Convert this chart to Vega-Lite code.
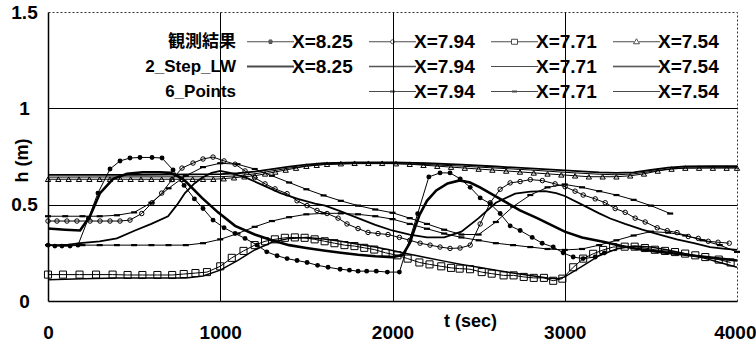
{
"$schema": "https://vega.github.io/schema/vega-lite/v6.json",
"width": 689, "height": 289,
"autosize": {"type": "none"},
"padding": {"left": 48, "top": 12, "right": 19, "bottom": 43},
"background": "white",
"config": {
 "font": "Liberation Sans",
 "view": {"stroke": "#333", "strokeDash": [2, 2], "strokeWidth": 1},
 "axis": {"labelFont": "Liberation Sans", "labelFontWeight": "bold", "labelFontSize": 19, "labelColor": "black", "titleFont": "Liberation Sans", "titleFontWeight": "bold", "titleFontSize": 18, "titleColor": "black", "domainColor": "black", "domainWidth": 1.5, "ticks": false, "gridColor": "black", "gridWidth": 1, "gridOpacity": 1}
},
"datasets": {
 "o825": [{"t":0,"h":0.29},{"t":40,"h":0.285},{"t":81,"h":0.285},{"t":128,"h":0.285},{"t":174,"h":0.29},{"t":235,"h":0.43},{"t":290,"h":0.56},{"t":360,"h":0.685},{"t":418,"h":0.727},{"t":476,"h":0.742},{"t":534,"h":0.745},{"t":604,"h":0.745},{"t":662,"h":0.742},{"t":726,"h":0.68},{"t":790,"h":0.6},{"t":850,"h":0.53},{"t":900,"h":0.48},{"t":958,"h":0.42},{"t":1022,"h":0.38},{"t":1086,"h":0.35},{"t":1144,"h":0.325},{"t":1214,"h":0.29},{"t":1270,"h":0.255},{"t":1330,"h":0.235},{"t":1388,"h":0.22},{"t":1446,"h":0.21},{"t":1504,"h":0.2},{"t":1565,"h":0.185},{"t":1626,"h":0.175},{"t":1696,"h":0.165},{"t":1750,"h":0.16},{"t":1800,"h":0.155},{"t":1850,"h":0.155},{"t":1906,"h":0.155},{"t":1970,"h":0.15},{"t":2040,"h":0.15},{"t":2146,"h":0.453},{"t":2211,"h":0.644},{"t":2276,"h":0.665},{"t":2334,"h":0.665},{"t":2393,"h":0.634},{"t":2451,"h":0.59},{"t":2509,"h":0.535},{"t":2567,"h":0.505},{"t":2625,"h":0.454},{"t":2683,"h":0.39},{"t":2741,"h":0.366},{"t":2811,"h":0.33},{"t":2869,"h":0.3},{"t":2933,"h":0.28},{"t":2991,"h":0.25},{"t":3049,"h":0.228},{"t":3107,"h":0.22},{"t":3177,"h":0.228},{"t":3230,"h":0.25}],
 "o794": [{"t":0,"h":0.415},{"t":52,"h":0.415},{"t":110,"h":0.415},{"t":168,"h":0.415},{"t":244,"h":0.415},{"t":302,"h":0.415},{"t":360,"h":0.415},{"t":418,"h":0.415},{"t":476,"h":0.42},{"t":544,"h":0.454},{"t":604,"h":0.51},{"t":660,"h":0.56},{"t":720,"h":0.63},{"t":778,"h":0.69},{"t":842,"h":0.716},{"t":900,"h":0.737},{"t":958,"h":0.747},{"t":1022,"h":0.727},{"t":1086,"h":0.71},{"t":1144,"h":0.675},{"t":1200,"h":0.64},{"t":1260,"h":0.608},{"t":1318,"h":0.582},{"t":1388,"h":0.557},{"t":1446,"h":0.52},{"t":1504,"h":0.495},{"t":1562,"h":0.47},{"t":1620,"h":0.454},{"t":1684,"h":0.43},{"t":1736,"h":0.4},{"t":1800,"h":0.376},{"t":1858,"h":0.356},{"t":1916,"h":0.35},{"t":1974,"h":0.345},{"t":2040,"h":0.33},{"t":2100,"h":0.315},{"t":2160,"h":0.3},{"t":2218,"h":0.29},{"t":2276,"h":0.28},{"t":2334,"h":0.273},{"t":2392,"h":0.275},{"t":2451,"h":0.29},{"t":2509,"h":0.4},{"t":2567,"h":0.51},{"t":2625,"h":0.58},{"t":2683,"h":0.613},{"t":2741,"h":0.62},{"t":2800,"h":0.63},{"t":2870,"h":0.625},{"t":2944,"h":0.608},{"t":3002,"h":0.593},{"t":3060,"h":0.57},{"t":3107,"h":0.55},{"t":3177,"h":0.53},{"t":3235,"h":0.51},{"t":3293,"h":0.48},{"t":3351,"h":0.46},{"t":3409,"h":0.43},{"t":3467,"h":0.41},{"t":3537,"h":0.38},{"t":3595,"h":0.365},{"t":3652,"h":0.355},{"t":3717,"h":0.335},{"t":3775,"h":0.325},{"t":3833,"h":0.31},{"t":3890,"h":0.305},{"t":3955,"h":0.3}],
 "o771": [{"t":0,"h":0.137},{"t":87,"h":0.137},{"t":183,"h":0.137},{"t":279,"h":0.137},{"t":375,"h":0.137},{"t":462,"h":0.135},{"t":548,"h":0.135},{"t":635,"h":0.135},{"t":721,"h":0.135},{"t":788,"h":0.14},{"t":856,"h":0.145},{"t":923,"h":0.15},{"t":1000,"h":0.18},{"t":1067,"h":0.224},{"t":1135,"h":0.26},{"t":1200,"h":0.29},{"t":1260,"h":0.31},{"t":1317,"h":0.32},{"t":1375,"h":0.328},{"t":1433,"h":0.33},{"t":1490,"h":0.328},{"t":1548,"h":0.32},{"t":1606,"h":0.31},{"t":1663,"h":0.3},{"t":1721,"h":0.29},{"t":1779,"h":0.285},{"t":1836,"h":0.276},{"t":1894,"h":0.267},{"t":1960,"h":0.25},{"t":2029,"h":0.237},{"t":2088,"h":0.22},{"t":2156,"h":0.2},{"t":2215,"h":0.19},{"t":2283,"h":0.18},{"t":2340,"h":0.172},{"t":2390,"h":0.168},{"t":2450,"h":0.165},{"t":2518,"h":0.15},{"t":2576,"h":0.142},{"t":2645,"h":0.133},{"t":2703,"h":0.133},{"t":2762,"h":0.125},{"t":2820,"h":0.12},{"t":2879,"h":0.12},{"t":2933,"h":0.105},{"t":2986,"h":0.116},{"t":3049,"h":0.175},{"t":3107,"h":0.22},{"t":3165,"h":0.245},{"t":3223,"h":0.265},{"t":3281,"h":0.28},{"t":3348,"h":0.282},{"t":3406,"h":0.282},{"t":3465,"h":0.275},{"t":3523,"h":0.266},{"t":3582,"h":0.26},{"t":3640,"h":0.254},{"t":3699,"h":0.246},{"t":3758,"h":0.237},{"t":3816,"h":0.228},{"t":3894,"h":0.215},{"t":3963,"h":0.2}],
 "o754": [{"t":0,"h":0.632},{"t":60,"h":0.632},{"t":120,"h":0.632},{"t":180,"h":0.632},{"t":240,"h":0.632},{"t":300,"h":0.632},{"t":360,"h":0.632},{"t":420,"h":0.632},{"t":480,"h":0.632},{"t":540,"h":0.632},{"t":600,"h":0.632},{"t":660,"h":0.632},{"t":720,"h":0.632},{"t":780,"h":0.632},{"t":840,"h":0.632},{"t":900,"h":0.632},{"t":960,"h":0.632},{"t":1020,"h":0.635},{"t":1080,"h":0.64},{"t":1140,"h":0.645},{"t":1200,"h":0.65},{"t":1260,"h":0.66},{"t":1320,"h":0.67},{"t":1380,"h":0.68},{"t":1440,"h":0.69},{"t":1500,"h":0.7},{"t":1560,"h":0.705},{"t":1620,"h":0.71},{"t":1700,"h":0.713},{"t":1780,"h":0.715},{"t":1860,"h":0.715},{"t":1940,"h":0.715},{"t":2020,"h":0.713},{"t":2100,"h":0.71},{"t":2180,"h":0.705},{"t":2260,"h":0.7},{"t":2340,"h":0.695},{"t":2420,"h":0.69},{"t":2500,"h":0.685},{"t":2580,"h":0.68},{"t":2660,"h":0.675},{"t":2740,"h":0.67},{"t":2820,"h":0.665},{"t":2900,"h":0.66},{"t":2980,"h":0.655},{"t":3060,"h":0.65},{"t":3140,"h":0.645},{"t":3220,"h":0.645},{"t":3300,"h":0.645},{"t":3380,"h":0.65},{"t":3460,"h":0.66},{"t":3540,"h":0.675},{"t":3620,"h":0.685},{"t":3700,"h":0.69},{"t":3780,"h":0.69},{"t":3860,"h":0.69},{"t":3940,"h":0.69},{"t":4000,"h":0.69}],
 "s825": [{"t":0,"h":0.376},{"t":100,"h":0.37},{"t":186,"h":0.366},{"t":244,"h":0.44},{"t":302,"h":0.56},{"t":378,"h":0.634},{"t":459,"h":0.66},{"t":550,"h":0.668},{"t":650,"h":0.668},{"t":711,"h":0.665},{"t":760,"h":0.645},{"t":800,"h":0.62},{"t":894,"h":0.535},{"t":987,"h":0.46},{"t":1086,"h":0.39},{"t":1200,"h":0.345},{"t":1300,"h":0.315},{"t":1400,"h":0.29},{"t":1500,"h":0.275},{"t":1600,"h":0.262},{"t":1700,"h":0.25},{"t":1800,"h":0.24},{"t":1900,"h":0.232},{"t":2000,"h":0.228},{"t":2060,"h":0.24},{"t":2100,"h":0.3},{"t":2130,"h":0.38},{"t":2156,"h":0.445},{"t":2200,"h":0.52},{"t":2254,"h":0.574},{"t":2320,"h":0.61},{"t":2390,"h":0.626},{"t":2450,"h":0.615},{"t":2508,"h":0.59},{"t":2645,"h":0.52},{"t":2740,"h":0.47},{"t":2840,"h":0.43},{"t":2920,"h":0.395},{"t":3000,"h":0.36},{"t":3100,"h":0.33},{"t":3230,"h":0.306},{"t":3330,"h":0.285},{"t":3425,"h":0.27},{"t":3550,"h":0.255},{"t":3700,"h":0.24},{"t":3850,"h":0.225},{"t":4000,"h":0.21}],
 "s794": [{"t":0,"h":0.29},{"t":100,"h":0.29},{"t":186,"h":0.3},{"t":300,"h":0.31},{"t":400,"h":0.325},{"t":505,"h":0.366},{"t":600,"h":0.4},{"t":697,"h":0.44},{"t":750,"h":0.5},{"t":795,"h":0.56},{"t":850,"h":0.61},{"t":894,"h":0.64},{"t":950,"h":0.665},{"t":1000,"h":0.675},{"t":1057,"h":0.665},{"t":1150,"h":0.64},{"t":1250,"h":0.6},{"t":1350,"h":0.56},{"t":1450,"h":0.53},{"t":1550,"h":0.505},{"t":1609,"h":0.495},{"t":1700,"h":0.465},{"t":1800,"h":0.43},{"t":1900,"h":0.395},{"t":1998,"h":0.366},{"t":2100,"h":0.345},{"t":2200,"h":0.33},{"t":2300,"h":0.33},{"t":2400,"h":0.36},{"t":2500,"h":0.43},{"t":2600,"h":0.51},{"t":2712,"h":0.557},{"t":2800,"h":0.568},{"t":2886,"h":0.57},{"t":2950,"h":0.56},{"t":3000,"h":0.545},{"t":3100,"h":0.5},{"t":3200,"h":0.455},{"t":3264,"h":0.428},{"t":3350,"h":0.4},{"t":3450,"h":0.37},{"t":3550,"h":0.345},{"t":3650,"h":0.32},{"t":3750,"h":0.3},{"t":3844,"h":0.28},{"t":3920,"h":0.272},{"t":4000,"h":0.265}],
 "s771": [{"t":0,"h":0.11},{"t":200,"h":0.115},{"t":400,"h":0.12},{"t":600,"h":0.12},{"t":800,"h":0.12},{"t":900,"h":0.13},{"t":1000,"h":0.16},{"t":1100,"h":0.21},{"t":1200,"h":0.265},{"t":1300,"h":0.305},{"t":1400,"h":0.325},{"t":1500,"h":0.33},{"t":1600,"h":0.322},{"t":1700,"h":0.31},{"t":1800,"h":0.295},{"t":1900,"h":0.28},{"t":2000,"h":0.262},{"t":2100,"h":0.243},{"t":2200,"h":0.225},{"t":2300,"h":0.207},{"t":2400,"h":0.19},{"t":2500,"h":0.175},{"t":2600,"h":0.16},{"t":2700,"h":0.145},{"t":2800,"h":0.132},{"t":2900,"h":0.12},{"t":2960,"h":0.115},{"t":3000,"h":0.125},{"t":3100,"h":0.18},{"t":3200,"h":0.235},{"t":3300,"h":0.27},{"t":3400,"h":0.285},{"t":3500,"h":0.28},{"t":3600,"h":0.265},{"t":3700,"h":0.245},{"t":3800,"h":0.225},{"t":3900,"h":0.2},{"t":4000,"h":0.175}],
 "s754": [{"t":0,"h":0.655},{"t":500,"h":0.655},{"t":1000,"h":0.658},{"t":1100,"h":0.663},{"t":1200,"h":0.672},{"t":1300,"h":0.685},{"t":1400,"h":0.698},{"t":1500,"h":0.708},{"t":1600,"h":0.715},{"t":1800,"h":0.72},{"t":2000,"h":0.72},{"t":2200,"h":0.715},{"t":2400,"h":0.708},{"t":2600,"h":0.698},{"t":2800,"h":0.688},{"t":3000,"h":0.678},{"t":3200,"h":0.668},{"t":3300,"h":0.665},{"t":3400,"h":0.668},{"t":3500,"h":0.68},{"t":3600,"h":0.692},{"t":3700,"h":0.698},{"t":3850,"h":0.7},{"t":4000,"h":0.7}],
 "p794": [{"t":0,"h":0.44},{"t":100,"h":0.44},{"t":200,"h":0.44},{"t":300,"h":0.44},{"t":400,"h":0.445},{"t":500,"h":0.46},{"t":600,"h":0.51},{"t":700,"h":0.585},{"t":800,"h":0.65},{"t":900,"h":0.695},{"t":1000,"h":0.715},{"t":1100,"h":0.71},{"t":1200,"h":0.685},{"t":1300,"h":0.65},{"t":1400,"h":0.615},{"t":1500,"h":0.58},{"t":1600,"h":0.548},{"t":1700,"h":0.52},{"t":1800,"h":0.495},{"t":1900,"h":0.475},{"t":2000,"h":0.458},{"t":2100,"h":0.43},{"t":2200,"h":0.4},{"t":2300,"h":0.37},{"t":2400,"h":0.345},{"t":2500,"h":0.345},{"t":2600,"h":0.41},{"t":2700,"h":0.49},{"t":2800,"h":0.55},{"t":2900,"h":0.59},{"t":3000,"h":0.605},{"t":3100,"h":0.59},{"t":3200,"h":0.57},{"t":3300,"h":0.55},{"t":3400,"h":0.525},{"t":3500,"h":0.495},{"t":3612,"h":0.454}],
 "p771": [{"t":0,"h":0.29},{"t":100,"h":0.29},{"t":200,"h":0.29},{"t":300,"h":0.29},{"t":400,"h":0.29},{"t":500,"h":0.29},{"t":600,"h":0.29},{"t":700,"h":0.29},{"t":800,"h":0.29},{"t":900,"h":0.3},{"t":1000,"h":0.32},{"t":1100,"h":0.35},{"t":1200,"h":0.385},{"t":1300,"h":0.415},{"t":1400,"h":0.435},{"t":1500,"h":0.45},{"t":1600,"h":0.455},{"t":1700,"h":0.455},{"t":1800,"h":0.45},{"t":1900,"h":0.44},{"t":2000,"h":0.425},{"t":2100,"h":0.4},{"t":2200,"h":0.375},{"t":2300,"h":0.35},{"t":2400,"h":0.33},{"t":2500,"h":0.315},{"t":2600,"h":0.3},{"t":2700,"h":0.29},{"t":2800,"h":0.28},{"t":2900,"h":0.27},{"t":3000,"h":0.265},{"t":3100,"h":0.27},{"t":3200,"h":0.29},{"t":3300,"h":0.315},{"t":3400,"h":0.34},{"t":3500,"h":0.36},{"t":3600,"h":0.355},{"t":3700,"h":0.34},{"t":3800,"h":0.315},{"t":3900,"h":0.29},{"t":4000,"h":0.255}],
 "p754": [{"t":0,"h":0.643},{"t":1000,"h":0.645},{"t":1100,"h":0.65},{"t":1200,"h":0.66},{"t":1300,"h":0.675},{"t":1400,"h":0.69},{"t":1500,"h":0.7},{"t":1600,"h":0.708},{"t":1800,"h":0.713},{"t":2000,"h":0.713},{"t":2200,"h":0.708},{"t":2400,"h":0.7},{"t":2600,"h":0.69},{"t":2800,"h":0.68},{"t":3000,"h":0.668},{"t":3200,"h":0.658},{"t":3300,"h":0.655},{"t":3400,"h":0.66},{"t":3500,"h":0.672},{"t":3600,"h":0.685},{"t":3700,"h":0.69},{"t":3850,"h":0.692},{"t":4000,"h":0.692}]
},
"encoding": {
 "x": {"field": "t", "type": "quantitative", "scale": {"domain": [0, 4000], "nice": false},
  "axis": {"values": [0, 1000, 2000, 3000, 4000], "format": "d", "title": "t (sec)", "labelPadding": 22, "labelFlush": false, "labelOverlap": false, "titleX": 422, "titleY": 20, "titleBaseline": "middle", "titleAlign": "center", "titleAnchor": null,
   "labelAlign": {"condition": {"test": "datum.value == 4000", "value": "right"}, "value": "center"},
   "labelOffset": {"condition": {"test": "datum.value == 4000", "value": 19}, "value": 0},
   "gridOpacity": {"condition": {"test": "datum.value == 0 || datum.value == 4000", "value": 0}, "value": 1}}},
 "y": {"field": "h", "type": "quantitative", "scale": {"domain": [0, 1.5], "nice": false},
  "axis": {"values": [0, 0.5, 1, 1.5], "format": "~g", "title": "h (m)", "labelAlign": "center", "labelPadding": 24, "labelBaseline": "middle", "labelOverlap": false, "titleX": -26, "titleY": 148, "titleBaseline": "middle", "titleAlign": "center", "titleAngle": -90,
   "gridOpacity": {"condition": {"test": "datum.value == 0 || datum.value == 1.5", "value": 0}, "value": 1}}}
},
"layer": [
 {"data": {"name": "s771"}, "mark": {"type": "line", "color": "black", "strokeWidth": 1.5}},
 {"data": {"name": "s754"}, "mark": {"type": "line", "color": "black", "strokeWidth": 1.8}},
 {"data": {"name": "s794"}, "mark": {"type": "line", "color": "black", "strokeWidth": 1.8}},
 {"data": {"name": "s825"}, "mark": {"type": "line", "color": "black", "strokeWidth": 2.6}},
 {"data": {"name": "p754"}, "mark": {"type": "line", "color": "black", "strokeWidth": 1}},
 {"data": {"name": "p794"}, "mark": {"type": "line", "color": "black", "strokeWidth": 1, "point": {"shape": "M-1,0H1", "filled": false, "size": 36, "strokeWidth": 2.2, "color": "black"}}},
 {"data": {"name": "p771"}, "mark": {"type": "line", "color": "black", "strokeWidth": 1, "point": {"shape": "M-1,0H1", "filled": false, "size": 36, "strokeWidth": 2.2, "color": "black"}}},
 {"data": {"name": "o754"}, "mark": {"type": "line", "color": "black", "strokeWidth": 1, "point": {"shape": "triangle-up", "filled": false, "size": 28, "strokeWidth": 1, "color": "black"}}},
 {"data": {"name": "o771"}, "mark": {"type": "line", "color": "black", "strokeWidth": 1, "point": {"shape": "square", "filled": false, "size": 50, "strokeWidth": 1, "color": "black"}}},
 {"data": {"name": "o794"}, "mark": {"type": "line", "color": "black", "strokeWidth": 1, "point": {"shape": "circle", "filled": false, "size": 20, "strokeWidth": 1, "color": "black"}}},
 {"data": {"name": "o825"}, "mark": {"type": "line", "color": "black", "strokeWidth": 1, "point": {"shape": "circle", "filled": true, "size": 24, "color": "black"}}},
 {"data": {"values": []}, "mark": {"type": "point", "filled": false},
  "encoding": {"shape": {"field": "s", "type": "nominal",
   "scale": {"domain": ["obs_8.25", "obs_7.94", "obs_7.71", "obs_7.54", "2s_8.25", "2s_7.94", "2s_7.71", "2s_7.54", "6p_blank", "6p_7.94", "6p_7.71", "6p_7.54"],
    "range": [
     "M-4.7,0H4.7M-0.4,-0.2H0.4M-0.44,0H0.44M-0.4,0.2H0.4M-0.3,-0.35H0.3M-0.3,0.35H0.3",
     "M-4.7,0H-0.4M0.4,0H4.7M0.4,0L0.28,0.28L0,0.4L-0.28,0.28L-0.4,0L-0.28,-0.28L0,-0.4L0.28,-0.28Z",
     "M-4.7,0H-0.6M0.6,0H4.7M-0.6,-0.5H0.6V0.5H-0.6Z",
     "M-4.7,0H-0.5M0.5,0H4.7M-0.6,0.4L0,-0.6L0.6,0.4Z",
     "M-4.7,-0.1H4.7M-4.7,0H4.7M-4.7,0.1H4.7",
     "M-4.7,-0.05H4.7M-4.7,0.05H4.7",
     "M-4.7,0H4.7",
     "M-4.7,-0.06H4.7M-4.7,0.06H4.7",
     "M0,0L0,0",
     "M-4.7,0H4.7M-0.5,-0.1H0.5M-0.5,0.1H0.5",
     "M-4.7,0H4.7M-0.5,-0.1H0.5M-0.5,0.1H0.5",
     "M-4.7,0H4.7"]},
   "legend": {"orient": "none", "legendX": 208, "legendY": 20, "direction": "horizontal", "columns": 4, "title": null, "padding": 0, "columnPadding": 14, "rowPadding": 5, "symbolSize": 100, "symbolStrokeWidth": 1, "symbolStrokeColor": "black", "symbolFillColor": "transparent", "symbolOffset": 5, "labelOffset": 12, "labelFont": "Liberation Sans", "labelFontSize": 19, "labelFontWeight": "bold", "labelColor": "black", "labelLimit": 0,
    "labelExpr": "datum.label == '6p_blank' ? '' : 'X=' + slice(datum.label, -4)"}}}},
 {"data": {"values": []}, "mark": {"type": "point"},
  "encoding": {"color": {"field": "g", "type": "nominal",
   "scale": {"domain": ["観測結果", "2_Step_LW", "6_Points"], "range": ["black", "black", "black"]},
   "legend": {"orient": "none", "legendX": 208, "legendY": 21, "direction": "vertical", "title": null, "padding": 0, "rowPadding": 7, "symbolSize": 100, "symbolOpacity": 0, "labelOffset": -37, "labelAlign": "right", "labelFont": "Liberation Sans, Noto Sans CJK JP", "labelFontSize": 17, "labelFontWeight": "bold", "labelColor": "black", "labelLimit": 0}}}}
]
}
